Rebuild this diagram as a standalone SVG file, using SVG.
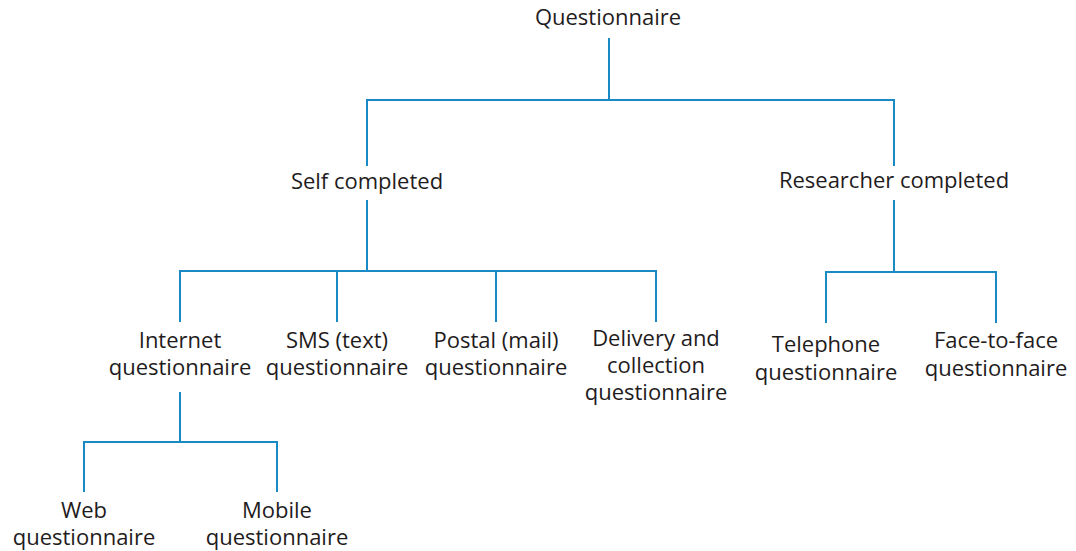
<svg xmlns="http://www.w3.org/2000/svg" width="1076" height="551" viewBox="0 0 1076 551">
  <style>
    .lbl { font-family: "Open Sans", "Noto Sans", sans-serif; font-size: 22px; fill: #1f1c1d; text-anchor: middle; }
    .conn { fill: none; stroke: #1a8ac4; stroke-width: 2; }
  </style>
  <rect width="1076" height="551" fill="#ffffff"/>

  <!-- tree connectors -->
  <g id="connectors">
    <path class="conn" d="M609 38 V100 M367 166 V100 H894 V166"/>
    <path class="conn" d="M367 200 V271 M180 322 V271 H656 V322 M337 271 V322 M496 271 V322"/>
    <path class="conn" d="M894 200 V272 M826 323 V272 H996 V323"/>
    <path class="conn" d="M180 392 V442 M84 492 V442 H277 V492"/>
  </g>

  <g id="questionnaire"><text class="lbl" x="608" y="25">Questionnaire</text></g>
  <g id="self-completed"><text class="lbl" x="367" y="189">Self completed</text></g>
  <g id="researcher-completed"><text class="lbl" x="894" y="188">Researcher completed</text></g>

  <g id="internet"><text class="lbl" x="180" y="348">Internet<tspan x="180" dy="27">questionnaire</tspan></text></g>
  <g id="sms"><text class="lbl" x="337" y="348">SMS (text)<tspan x="337" dy="27">questionnaire</tspan></text></g>
  <g id="postal"><text class="lbl" x="496" y="348">Postal (mail)<tspan x="496" dy="27">questionnaire</tspan></text></g>
  <g id="delivery"><text class="lbl" x="656" y="346">Delivery and<tspan x="656" dy="27">collection</tspan><tspan x="656" dy="27">questionnaire</tspan></text></g>

  <g id="telephone"><text class="lbl" x="826" y="352">Telephone<tspan x="826" dy="28">questionnaire</tspan></text></g>
  <g id="face-to-face"><text class="lbl" x="996" y="348">Face-to-face<tspan x="996" dy="28">questionnaire</tspan></text></g>

  <g id="web"><text class="lbl" x="84" y="518">Web<tspan x="84" dy="27">questionnaire</tspan></text></g>
  <g id="mobile"><text class="lbl" x="277" y="518">Mobile<tspan x="277" dy="27">questionnaire</tspan></text></g>
</svg>
